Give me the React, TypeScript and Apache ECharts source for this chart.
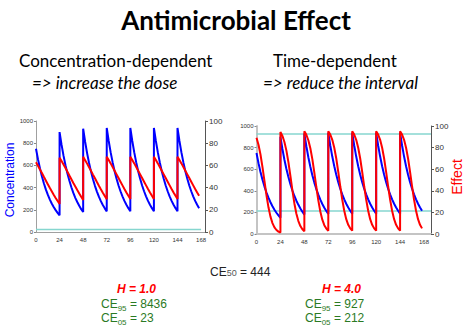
import React, { useEffect, useRef } from "react";
import * as echarts from "echarts";

// Dose schedule (h) and sampling offsets within each dosing interval (h)
const DOSE_TIMES = [0, 24, 48, 72, 96, 120, 144];
const HOURS_AFTER_DOSE = [0, 2, 4, 6, 8, 10, 12, 14, 16, 18, 20, 22, 24];

// Concentration (left axis, 0-1000), one array per dose
const CONC_DOSE_1 = [750, 656, 574, 502, 439, 384, 336, 294, 257, 225, 197, 172, 150];
const CONC_DOSE_2 = [900, 787, 688, 602, 527, 461, 403, 352, 308, 270, 236, 206, 180];
const CONC_DOSE_3 = [930, 813, 711, 622, 544, 476, 416, 364, 318, 278, 243, 213, 186];
const CONC_DOSE_4 = [937, 820, 717, 627, 548, 479, 419, 367, 321, 280, 245, 215, 188];
const CONC_DOSE_5 = [937, 820, 717, 627, 548, 479, 419, 367, 321, 280, 245, 215, 188];
const CONC_DOSE_6 = [937, 820, 717, 627, 548, 479, 419, 367, 321, 280, 245, 215, 188];
const CONC_DOSE_7 = [937, 820, 717, 627, 548, 479, 419, 367, 321, 280, 245, 215];

// Effect, H = 1.0 (right axis, 0-100)
const EFF_H1_DOSE_1 = [62.8, 59.6, 56.4, 53.1, 49.7, 46.4, 43.1, 39.8, 36.7, 33.6, 30.7, 27.9, 25.3];
const EFF_H1_DOSE_2 = [67.0, 63.9, 60.8, 57.6, 54.3, 50.9, 47.6, 44.2, 41.0, 37.8, 34.7, 31.7, 28.8];
const EFF_H1_DOSE_3 = [67.7, 64.7, 61.6, 58.3, 55.1, 51.7, 48.4, 45.0, 41.7, 38.5, 35.4, 32.4, 29.5];
const EFF_H1_DOSE_4 = [67.8, 64.9, 61.8, 58.5, 55.2, 51.9, 48.6, 45.3, 42.0, 38.7, 35.6, 32.6, 29.7];
const EFF_H1_DOSE_5 = [67.8, 64.9, 61.8, 58.5, 55.2, 51.9, 48.6, 45.3, 42.0, 38.7, 35.6, 32.6, 29.7];
const EFF_H1_DOSE_6 = [67.8, 64.9, 61.8, 58.5, 55.2, 51.9, 48.6, 45.3, 42.0, 38.7, 35.6, 32.6, 29.7];
const EFF_H1_DOSE_7 = [67.8, 64.9, 61.8, 58.5, 55.2, 51.9, 48.6, 45.3, 42.0, 38.7, 35.6, 32.6];

// Effect, H = 4.0 (right axis, 0-100)
const EFF_H4_DOSE_1 = [89.1, 82.7, 73.6, 62.0, 48.9, 35.9, 24.7, 16.1, 10.1, 6.2, 3.7, 2.2, 1.3];
const EFF_H4_DOSE_2 = [94.4, 90.8, 85.2, 77.2, 66.5, 53.7, 40.4, 28.3, 18.8, 12.0, 7.4, 4.4, 2.6];
const EFF_H4_DOSE_3 = [95.1, 91.8, 86.8, 79.4, 69.3, 56.9, 43.5, 31.1, 20.8, 13.3, 8.2, 5.0, 3.0];
const EFF_H4_DOSE_4 = [95.2, 92.1, 87.2, 79.9, 69.9, 57.5, 44.2, 31.8, 21.5, 13.7, 8.5, 5.2, 3.1];
const EFF_H4_DOSE_5 = [95.2, 92.1, 87.2, 79.9, 69.9, 57.5, 44.2, 31.8, 21.5, 13.7, 8.5, 5.2, 3.1];
const EFF_H4_DOSE_6 = [95.2, 92.1, 87.2, 79.9, 69.9, 57.5, 44.2, 31.8, 21.5, 13.7, 8.5, 5.2, 3.1];
const EFF_H4_DOSE_7 = [95.2, 92.1, 87.2, 79.9, 69.9, 57.5, 44.2, 31.8, 21.5, 13.7, 8.5, 5.2];

// Reference concentrations (horizontal lines)
const CE05_H1 = 23;
const CE95_H4 = 927;
const CE05_H4 = 212;
const REF_LINE_END_LEFT = 168;
const REF_LINE_END_RIGHT = 175;

const X_TICKS = [0, 24, 48, 72, 96, 120, 144, 168];

const CONC = [CONC_DOSE_1, CONC_DOSE_2, CONC_DOSE_3, CONC_DOSE_4, CONC_DOSE_5, CONC_DOSE_6, CONC_DOSE_7];
const EFF_H1 = [EFF_H1_DOSE_1, EFF_H1_DOSE_2, EFF_H1_DOSE_3, EFF_H1_DOSE_4, EFF_H1_DOSE_5, EFF_H1_DOSE_6, EFF_H1_DOSE_7];
const EFF_H4 = [EFF_H4_DOSE_1, EFF_H4_DOSE_2, EFF_H4_DOSE_3, EFF_H4_DOSE_4, EFF_H4_DOSE_5, EFF_H4_DOSE_6, EFF_H4_DOSE_7];

function build(perDose: number[][]): number[][] {
  const out: number[][] = [];
  perDose.forEach((vals, i) => {
    vals.forEach((v, j) => out.push([DOSE_TIMES[i] + HOURS_AFTER_DOSE[j], v]));
  });
  return out;
}

const BLUE = "#0000ff";
const RED = "#ff0000";
const TEAL = "#86d6cf";
const GREEN = "#2a7a24";
const LABEL_FONT = "'Liberation Sans', Arial, sans-serif";
const TITLE_FONT = "Lato, 'Open Sans', sans-serif";

function xAxis(gridIndex: number, max: number, lineColor: string, lineWidth: number) {
  return {
    type: "value",
    gridIndex,
    min: 0,
    max,
    interval: 24,
    axisLine: { show: true, lineStyle: { color: lineColor, width: lineWidth } },
    axisTick: { show: false },
    splitLine: { show: false },
    axisLabel: {
      fontSize: 6,
      color: "#333",
      fontFamily: LABEL_FONT,
      margin: 5,
      formatter: (v: number) => (X_TICKS.indexOf(v) >= 0 ? String(v) : ""),
    },
  };
}

function leftY(gridIndex: number, lineColor: string, lineWidth: number) {
  return {
    type: "value",
    gridIndex,
    position: "left",
    min: 0,
    max: 1000,
    interval: 200,
    axisLine: { show: true, lineStyle: { color: lineColor, width: lineWidth } },
    axisTick: { show: true, length: 2, lineStyle: { color: "#888" } },
    splitLine: { show: false },
    axisLabel: { fontSize: 6, color: "#333", fontFamily: LABEL_FONT, margin: 3, formatter: (v: number) => String(v) },
  };
}

function rightY(gridIndex: number) {
  return {
    type: "value",
    gridIndex,
    position: "right",
    min: 0,
    max: 100,
    interval: 20,
    axisLine: { show: true, lineStyle: { color: "#555", width: 1 } },
    axisTick: { show: true, length: 3, lineStyle: { color: "#555" } },
    splitLine: { show: false },
    axisLabel: { fontSize: 8, color: "#333", fontFamily: LABEL_FONT, margin: 4, formatter: (v: number) => String(v) },
  };
}

function lineSeries(xi: number, yi: number, data: number[][], color: string, width: number) {
  return {
    type: "line",
    xAxisIndex: xi,
    yAxisIndex: yi,
    data,
    showSymbol: false,
    symbol: "none",
    silent: true,
    lineStyle: { color, width },
  };
}

const richCE = (size: number, color: string) => ({
  m: { fontSize: size, fill: color, fontFamily: LABEL_FONT, lineHeight: 14, verticalAlign: "top" },
  s: { fontSize: size - 4, fill: color, fontFamily: LABEL_FONT, lineHeight: 14, verticalAlign: "bottom" },
  n: { fontSize: size - 3, fill: "#555", fontFamily: LABEL_FONT, lineHeight: 14, verticalAlign: "top", padding: [2, 0, 0, 0] },
});

export default function App() {
  const ref = useRef<HTMLDivElement>(null);
  useEffect(() => {
    if (!ref.current) return;
    const chart = echarts.init(ref.current, undefined, { renderer: "svg" });
    const option: any = {
      animation: false,
      backgroundColor: "#ffffff",
      grid: [
        { left: 36, top: 121, width: 169, height: 111 },
        { left: 256.5, top: 126, width: 174.5, height: 108 },
      ],
      xAxis: [xAxis(0, 172, "#a0a0a0", 1), xAxis(1, REF_LINE_END_RIGHT, "#c4c4c4", 2)],
      yAxis: [leftY(0, "#a0a0a0", 1), rightY(0), leftY(1, "#c4c4c4", 2), rightY(1)],
      series: [
        lineSeries(0, 0, [[0, CE05_H1], [REF_LINE_END_LEFT, CE05_H1]], TEAL, 1.5),
        lineSeries(0, 0, build(CONC), BLUE, 2),
        lineSeries(0, 1, build(EFF_H1), RED, 2),
        lineSeries(1, 2, [[0, CE95_H4], [REF_LINE_END_RIGHT, CE95_H4]], TEAL, 1.5),
        lineSeries(1, 2, [[0, CE05_H4], [REF_LINE_END_RIGHT, CE05_H4]], TEAL, 1.5),
        lineSeries(1, 2, build(CONC), BLUE, 2),
        lineSeries(1, 3, build(EFF_H4), RED, 2),
      ],
      graphic: [
        {
          type: "text", x: 236, y: 20,
          style: { text: "Antimicrobial Effect", fontSize: 26, fontWeight: "bold", fontFamily: TITLE_FONT, fill: "#000", align: "center", verticalAlign: "middle" },
        },
        {
          type: "text", x: 19, y: 60,
          style: { text: "Concentration-dependent", fontSize: 17, fontFamily: TITLE_FONT, fill: "#000", align: "left", verticalAlign: "middle" },
        },
        {
          type: "text", x: 32, y: 82,
          style: { text: "=> increase the dose", fontSize: 17, fontStyle: "italic", fontFamily: TITLE_FONT, fill: "#000", align: "left", verticalAlign: "middle" },
        },
        {
          type: "text", x: 273, y: 60,
          style: { text: "Time-dependent", fontSize: 17, fontFamily: TITLE_FONT, fill: "#000", align: "left", verticalAlign: "middle" },
        },
        {
          type: "text", x: 263, y: 82,
          style: { text: "=> reduce the interval", fontSize: 17, fontStyle: "italic", fontFamily: TITLE_FONT, fill: "#000", align: "left", verticalAlign: "middle" },
        },
        {
          type: "text", x: 10, y: 180, rotation: Math.PI / 2,
          style: { text: "Concentration", fontSize: 12, fontFamily: LABEL_FONT, fill: BLUE, align: "center", verticalAlign: "middle" },
        },
        {
          type: "text", x: 456.5, y: 177, rotation: Math.PI / 2,
          style: { text: "Effect", fontSize: 14, fontFamily: LABEL_FONT, fill: RED, align: "center", verticalAlign: "middle" },
        },
        {
          type: "text", x: 210, y: 273,
          style: { text: "{m|CE}{n|50}{m| = 444}", rich: richCE(12, "#222"), align: "left", verticalAlign: "middle" },
        },
        {
          type: "text", x: 117, y: 289,
          style: { text: "H = 1.0", fontSize: 12, fontWeight: "bold", fontStyle: "italic", fontFamily: LABEL_FONT, fill: RED, align: "left", verticalAlign: "middle" },
        },
        {
          type: "text", x: 322, y: 289,
          style: { text: "H = 4.0", fontSize: 12, fontWeight: "bold", fontStyle: "italic", fontFamily: LABEL_FONT, fill: RED, align: "left", verticalAlign: "middle" },
        },
        {
          type: "text", x: 101, y: 305,
          style: { text: "{m|CE}{s|95}{m| = 8436}", rich: richCE(12, GREEN), align: "left", verticalAlign: "middle" },
        },
        {
          type: "text", x: 101, y: 319,
          style: { text: "{m|CE}{s|05}{m| = 23}", rich: richCE(12, GREEN), align: "left", verticalAlign: "middle" },
        },
        {
          type: "text", x: 305, y: 305,
          style: { text: "{m|CE}{s|95}{m| = 927}", rich: richCE(12, GREEN), align: "left", verticalAlign: "middle" },
        },
        {
          type: "text", x: 305, y: 319,
          style: { text: "{m|CE}{s|05}{m| = 212}", rich: richCE(12, GREEN), align: "left", verticalAlign: "middle" },
        },
      ],
    };
    chart.setOption(option);
    return () => chart.dispose();
  }, []);
  return (
    <div
      ref={ref}
      style={{ position: "fixed", left: 0, top: 0, width: 466, height: 329, background: "#fff" }}
    />
  );
}
